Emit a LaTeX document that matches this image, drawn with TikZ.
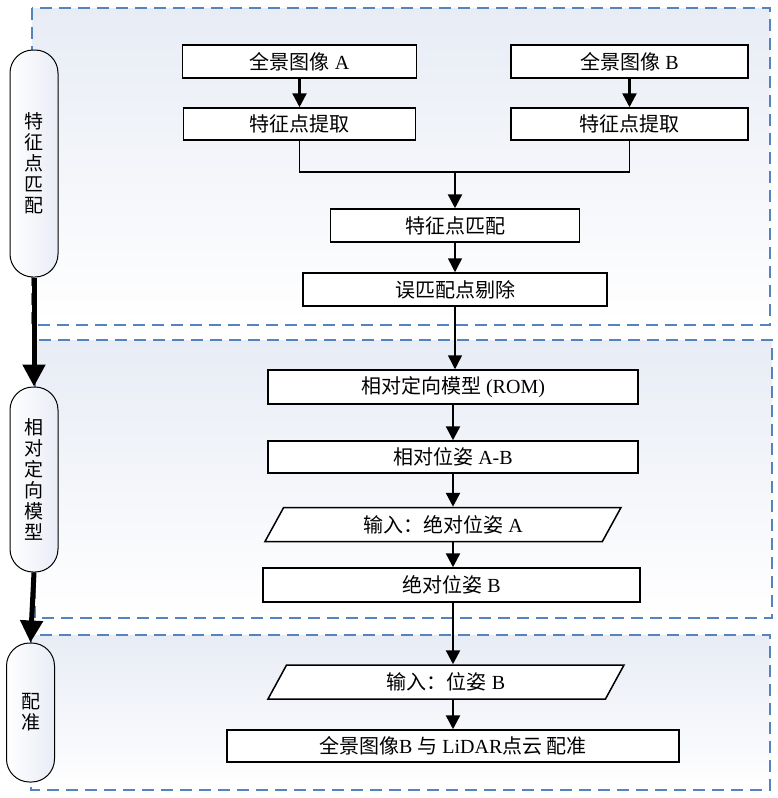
\documentclass[tikz,border=0pt]{standalone}
\usepackage{fontspec}
\setmainfont{Liberation Serif}
\newfontfamily\cjk{Noto Sans CJK SC}
\usetikzlibrary{arrows.meta,shapes.geometric}
\definecolor{panelblue}{RGB}{232,236,245}
\definecolor{dashblue}{RGB}{84,131,189}
\newcommand{\pillfont}{\cjk\fontsize{19}{21}\selectfont\lineskiplimit=-30pt\relax}
\tikzset{
  panel/.style={draw=dashblue,line width=1.5pt,dash pattern=on 12pt off 7pt,top color=panelblue,bottom color=white},
  pill/.style={draw,line width=1pt,rounded corners=23pt,left color=white,right color=panelblue,minimum width=48pt,align=center,inner sep=0pt,font=\pillfont},
  box/.style={draw,line width=1.5pt,fill=white,minimum height=33pt,inner sep=0pt,font=\fontsize{20}{22}\selectfont},
  inbox/.style={box,trapezium,trapezium left angle=45,trapezium right angle=135,trapezium stretches body},
  flow/.style={line width=2.5pt,-{Triangle[length=14pt,width=14pt]}},
  thinflow/.style={line width=1.5pt,-{Triangle[length=14pt,width=14pt]}},
  stageflow/.style={line width=5pt,-{Triangle[length=22pt,width=22pt]}}
}
\begin{document}
\begin{tikzpicture}[x=1pt,y=-1pt]
\useasboundingbox (0,0) rectangle (778,798);

\path[panel] (32,8) rectangle (770,325);
\path[panel] (35,340) rectangle (772,618);
\path[panel] (31,635) rectangle (770,790);

\coordinate (join) at (455,172);

\node[pill,minimum height=227pt] (matching) at (34,163.5) {特\\征\\点\\匹\\配};
\node[pill,minimum height=185pt] (orient) at (34,479.5) {相\\对\\定\\向\\模\\型};
\node[pill,minimum height=139pt] (register) at (30.5,712.5) {配\\准};

\node[box,minimum width=234pt] (imgA) at (299.5,61.5) {{\cjk 全景图像} A};
\node[box,minimum width=237pt] (imgB) at (629.5,61.5) {{\cjk 全景图像} B};
\node[box,minimum width=232pt,minimum height=32pt] (extA) at (299.5,124) {\cjk 特征点提取};
\node[box,minimum width=237pt,minimum height=32pt] (extB) at (629.5,124) {\cjk 特征点提取};
\node[box,minimum width=249pt] (match) at (455,225.5) {\cjk 特征点匹配};
\node[box,minimum width=304pt] (reject) at (455,289.5) {\cjk 误匹配点剔除};
\node[box,minimum width=370pt,minimum height=34pt] (rom) at (453,387) {{\cjk 相对定向模型} (ROM)};
\node[box,minimum width=370pt,minimum height=32pt] (rel) at (453,457) {{\cjk 相对位姿} A-B};
\node[inbox,minimum width=356pt,minimum height=34pt] (inA) at (443,524.5) {{\cjk 输入：绝对位姿} A};
\node[box,minimum width=377pt,minimum height=34pt] (absB) at (451.5,585) {{\cjk 绝对位姿} B};
\node[inbox,minimum width=356pt,minimum height=34pt] (inB) at (446,682) {{\cjk 输入：位姿} B};
\node[box,minimum width=452pt,minimum height=32pt] (final) at (453,746) {{\cjk 全景图像}B {\cjk 与} LiDAR{\cjk 点云 配准}};

\draw[stageflow] (matching.south) -- (orient.north);
\draw[stageflow] (orient.south) -- (register.north);

\draw[flow] (imgA) -- (extA);
\draw[flow] (imgB) -- (extB);
\draw[line width=1.5pt] (extA.south) |- (join) -| (extB.south);
\draw[flow] (join) -- (match);
\draw[thinflow] (match) -- (reject);
\draw[thinflow] (reject.south) -- (reject.south |- rom.north);
\draw[flow] (rom) -- (rel);
\draw[flow] (rel.south) -- (rel.south |- inA.north);
\draw[flow] (inA.south -| rel.south) -- (rel.south |- absB.north);
\draw[flow] (rel.south |- absB.south) -- (rel.south |- inB.north);
\draw[flow] (rel.south |- inB.south) -- (rel.south |- final.north);

\end{tikzpicture}
\end{document}
